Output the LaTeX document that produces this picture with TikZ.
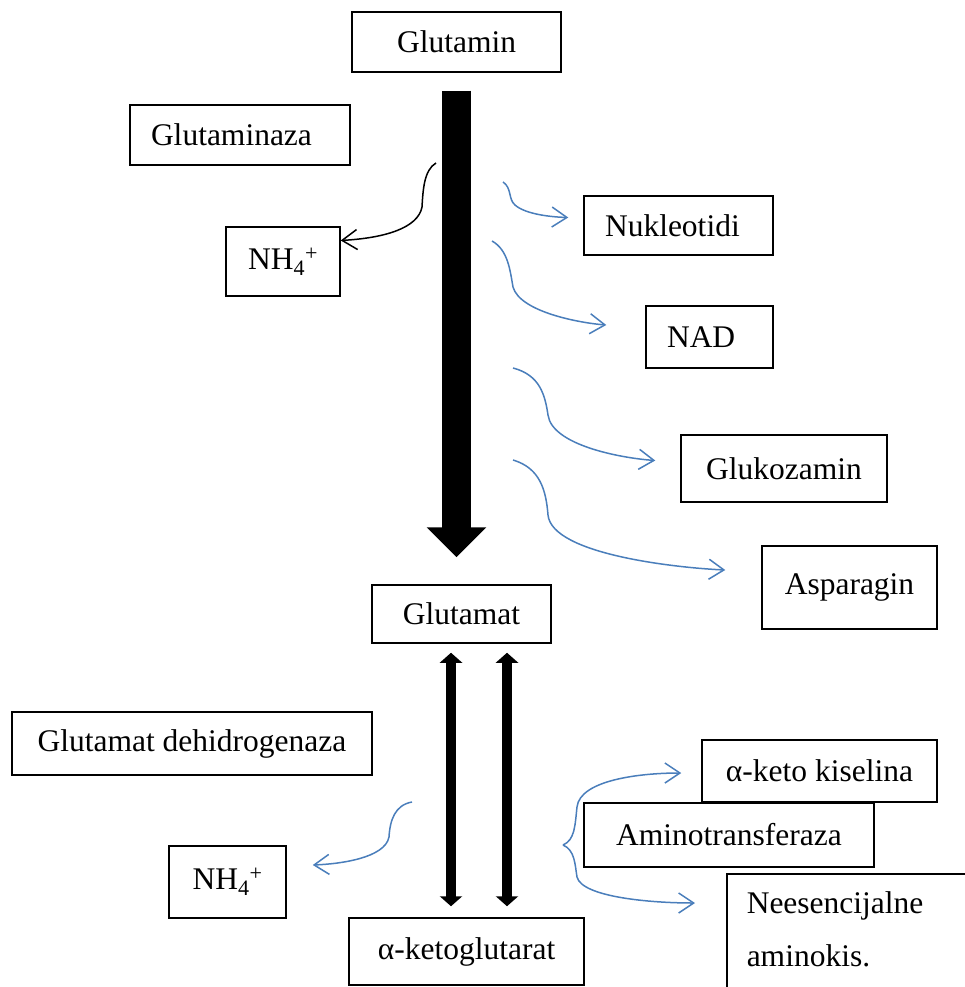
\documentclass[tikz,border=0pt]{standalone}
\usepackage{fontspec}
\setmainfont{Liberation Serif}
\usetikzlibrary{arrows.meta}

\begin{document}
\begin{tikzpicture}[x=1pt,y=-1pt,
	box/.style={draw, line width=1.5pt, fill=white, inner sep=0, font=\fontsize{31.5pt}{38pt}\selectfont},
	lbox/.style={box, align=left, inner xsep=21pt},
	flow/.style={line width=1.5pt, -{Straight Barb[length=15pt,width=20pt]}},
	thick arrow/.style={line width=10pt, {Triangle[length=10pt,width=22pt]}-{Triangle[length=10pt,width=22pt]}}]
	\definecolor{custcol_4a_7e_bb}{RGB}{74, 126, 187}
	\definecolor{custcol_0_0_0}{RGB}{0, 0, 0}
	\useasboundingbox (0,0) rectangle (965,987);
	\clip (0,0) rectangle (965,987);
	% boxes
	\node[box, minimum width=209pt, minimum height=60pt] (gln) at (456.5,42.0) {Glutamin};
	\node[lbox, text width=178pt, minimum height=60pt] (gls) at (240.0,135.0) {Glutaminaza};
	\node[box, minimum width=114pt, minimum height=69pt] (nhA) at (283.0,261.5) {NH\textsubscript{4}\textsuperscript{+}};
	\node[lbox, text width=147pt, minimum height=59pt] (nuk) at (678.5,225.5) {Nukleotidi};
	\node[lbox, text width=85pt, minimum height=62pt] (nad) at (709.5,337.0) {NAD};
	\node[box, minimum width=206pt, minimum height=67pt] (glk) at (784.0,468.5) {Glukozamin};
	\node[box, minimum width=175pt, minimum height=83pt] (asp) at (849.5,587.5) {Asparagin};
	\node[box, minimum width=179pt, minimum height=58pt] (glu) at (461.5,614.0) {Glutamat};
	\node[box, minimum width=360pt, minimum height=63pt] (gdh) at (192.0,743.5) {Glutamat dehidrogenaza};
	\node[box, minimum width=117pt, minimum height=72pt] (nhB) at (227.5,882.0) {NH\textsubscript{4}\textsuperscript{+}};
	\node[box, minimum width=235pt, minimum height=67pt] (akg) at (466.5,951.5) {α-ketoglutarat};
	\node[box, minimum width=235pt, minimum height=62pt] (aks) at (819.5,771.0) {α-keto kiselina};
	\node[box, minimum width=290pt, minimum height=64pt] (amt) at (729.0,835.0) {Aminotransferaza};
	\node[box, anchor=north west, text width=300pt, minimum width=340pt, align=left, inner xsep=20pt, inner ysep=18pt,
		text depth=90pt, font=\fontsize{31.5pt}{53pt}\selectfont] (nea) at (726.0,873.0) {Neesencijalne\\aminokis.};
	% main flow
	\draw [line width=29pt, custcol_0_0_0, -{Triangle[length=30pt,width=58pt]}, shorten <=18pt, shorten >=27pt]
		(gln.south) -- (gln.south |- glu.north);
	\draw [thick arrow, shorten <=9pt, shorten >=11pt] ([xshift=-10.5pt]glu.south) -- ([xshift=-10.5pt]glu.south |- akg.north);
	\draw [thick arrow, shorten <=9pt, shorten >=11pt] ([xshift=45.5pt]glu.south) -- ([xshift=45.5pt]glu.south |- akg.north);
	% side branches
	\coordinate (glnOut) at (436.0,163.0);
	\coordinate (nukIn) at (503.0,182.0);
	\coordinate (nadIn) at (492.0,241.0);
	\coordinate (glkIn) at (513.0,368.0);
	\coordinate (aspIn) at (513.0,460.0);
	\coordinate (gluOut) at (412.0,802.0);
	\coordinate (brace) at (563.0,845.0);
	\draw [flow, custcol_0_0_0] (glnOut) .. controls (424.0,170.0) and (423.0,190.0) .. (422.0,207.0)
		.. controls (418.0,228.0) and (385.0,238.0) .. (nhA.20);
	\draw [flow, custcol_4a_7e_bb] (nukIn) .. controls (512.0,188.0) and (508.0,199.0) .. (515.0,205.0)
		.. controls (525.0,214.0) and (550.0,217.0) .. ([xshift=-15pt,yshift=8pt]nuk.west);
	\draw [flow, custcol_4a_7e_bb] (nadIn) .. controls (508.0,250.0) and (510.0,270.0) .. (513.0,287.0)
		.. controls (520.0,312.0) and (580.0,323.0) .. ([xshift=-39pt,yshift=12pt]nad.west);
	\draw [flow, custcol_4a_7e_bb] (glkIn) .. controls (540.0,375.0) and (545.0,395.0) .. (548.0,415.0)
		.. controls (552.0,445.0) and (620.0,458.0) .. ([xshift=-25pt,yshift=8pt]glk.west);
	\draw [flow, custcol_4a_7e_bb] (aspIn) .. controls (540.0,468.0) and (546.0,490.0) .. (548.0,515.0)
		.. controls (552.0,555.0) and (680.0,568.0) .. ([xshift=-36pt,yshift=17.5pt]asp.west);
	\draw [flow, custcol_4a_7e_bb] (gluOut) .. controls (395.0,805.0) and (390.0,820.0) .. (389.0,837.0)
		.. controls (385.0,858.0) and (340.0,864.0) .. ([xshift=26pt,yshift=17pt]nhB.east);
	\draw [flow, custcol_4a_7e_bb] (brace) .. controls (575.0,840.0) and (575.0,825.0) .. (577.0,807.0)
		.. controls (580.0,780.0) and (640.0,773.0) .. ([xshift=-20pt,yshift=-2pt]aks.west);
	\draw [flow, custcol_4a_7e_bb] (brace) .. controls (575.0,850.0) and (575.0,865.0) .. (577.0,877.0)
		.. controls (582.0,897.0) and (650.0,903.0) .. ([xshift=-31pt,yshift=-30pt]nea.north west);
\end{tikzpicture}
\end{document}
